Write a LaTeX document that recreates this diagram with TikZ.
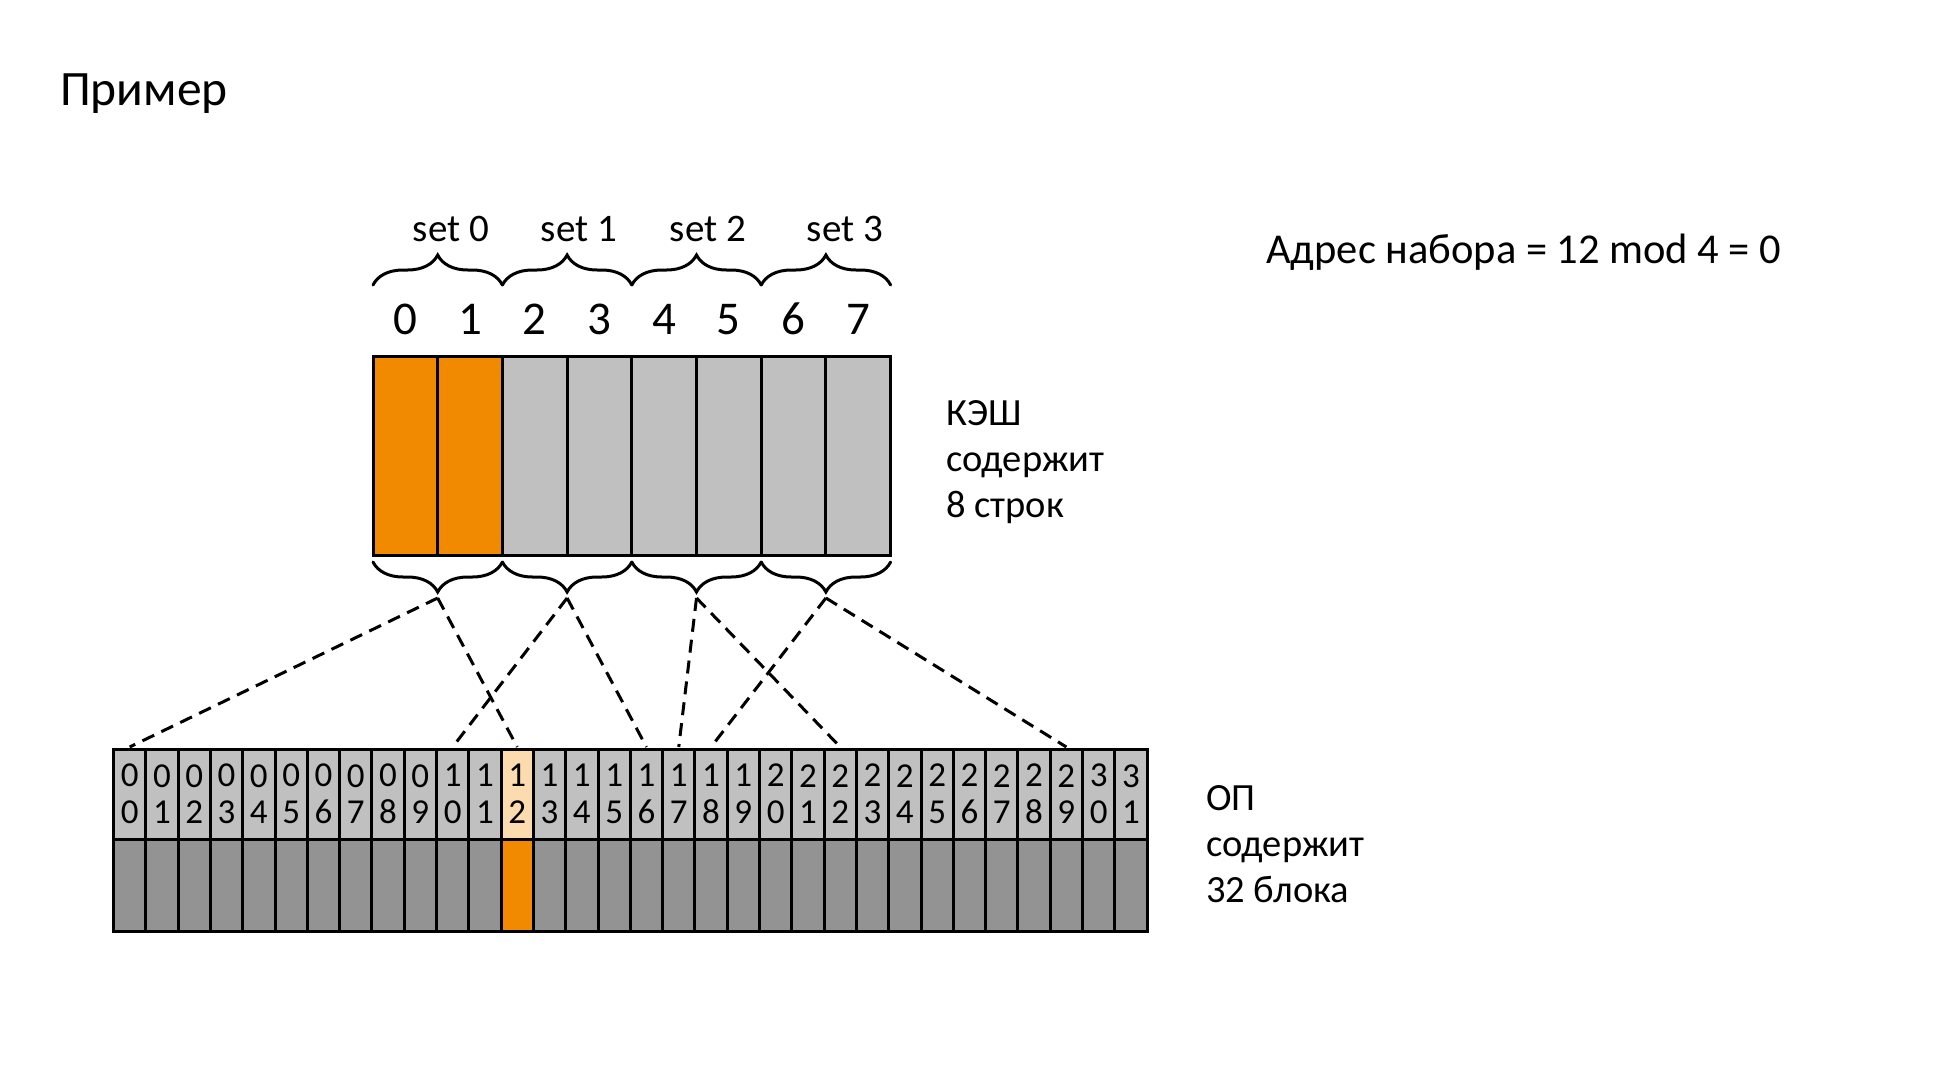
\documentclass[tikz,border=0pt]{standalone}
\usepackage{fontspec}
\setmainfont{Carlito}
\usetikzlibrary{decorations.pathreplacing}
\definecolor{orangeF}{HTML}{F28A00}
\definecolor{peach}{HTML}{FCDCAE}
\definecolor{lgray}{HTML}{C0C0C0}
\definecolor{dgray}{HTML}{939393}
\tikzset{
  cachecell/.style={draw, line width=3pt, minimum width=64.7pt, minimum height=199pt, inner sep=0pt, outer sep=0pt, anchor=north west},
  memtop/.style={draw, line width=3pt, minimum width=32.3pt, minimum height=90pt, inner sep=0pt, outer sep=0pt, anchor=north west, align=center, font=\fontsize{35pt}{36.6pt}\selectfont},
  membot/.style={draw, line width=3pt, minimum width=32.3pt, minimum height=92pt, inner sep=0pt, outer sep=0pt, anchor=north west},
  bracestyle/.style={decorate, decoration={brace, amplitude=30pt}, line width=3pt, line cap=round},
  dashline/.style={line width=3pt, dash pattern=on 13pt off 8pt},
  lbl/.style={inner sep=0pt, anchor=base west, align=left},
}
\begin{document}
\begin{tikzpicture}[x=1pt,y=1pt]
\useasboundingbox (0,0) rectangle (1954,-1084);
% title
\node[lbl, font=\fontsize{49.5pt}{59pt}\selectfont] (title) at (60,-105) {Пример};
\node[lbl, font=\fontsize{42.5pt}{50pt}\selectfont] (addr) at (1266,-263) {Адрес набора = 12 mod 4 = 0};
% cache
\foreach \k in {0,...,7}{
  \ifnum\k<2 \def\fc{orangeF}\else\def\fc{lgray}\fi
  \node[cachecell, fill=\fc] (c\k) at (373+64.7*\k,-356) {};
  \node[inner sep=0pt, anchor=base, font=\fontsize{47pt}{56pt}\selectfont] (d\k) at (405.35+64.7*\k,-334) {\k};
}
% set labels
\foreach \s/\x in {0/451,1/579,2/708,3/845}{
  \node[inner sep=0pt, anchor=base, font=\fontsize{39pt}{46pt}\selectfont] (s\s) at (\x,-241.7) {set \s};
}
% braces
\foreach \s in {0,...,3}{
  \draw[bracestyle] (373+129.4*\s,-285) -- (502.4+129.4*\s,-285);
  \draw[bracestyle] (502.4+129.4*\s,-562) -- (373+129.4*\s,-562);
  \coordinate (bt\s) at (437.7+129.4*\s,-598);
}
% memory
\foreach \k in {0,...,31}{
  \ifnum\k=12 \def\fc{peach}\def\fb{orangeF}\else\def\fc{lgray}\def\fb{dgray}\fi
  \pgfmathtruncatemacro\t{\k/10}
  \pgfmathtruncatemacro\u{mod(\k,10)}
  \node[memtop, fill=\fc] (m\k) at (113.5+32.3*\k,-749) {\t\\\u};
  \node[membot, fill=\fb] (mb\k) at (113.5+32.3*\k,-839) {};
}
% labels
\node[lbl, font=\fontsize{38.5pt}{46pt}\selectfont] (cachelbl) at (946,-517) {КЭШ\\содержит\\8 строк};
\node[lbl, font=\fontsize{38.5pt}{46pt}\selectfont] (memlbl) at (1206,-902) {ОП\\содержит\\32 блока};
% dashed connectors
\draw[dashline] (bt0) -- ([yshift=2pt]m0.north);
\draw[dashline] (bt0) -- ([yshift=2pt]m12.north);
\draw[dashline] (bt1) -- ([yshift=2pt]m10.north);
\draw[dashline] (bt1) -- ([yshift=2pt]m16.north);
\draw[dashline] (bt2) -- ([yshift=2pt]m17.north);
\draw[dashline] (bt2) -- ([yshift=2pt]m22.north);
\draw[dashline] (bt3) -- ([yshift=2pt]m18.north);
\draw[dashline] (bt3) -- ([yshift=2pt]m29.north);
\end{tikzpicture}
\end{document}
